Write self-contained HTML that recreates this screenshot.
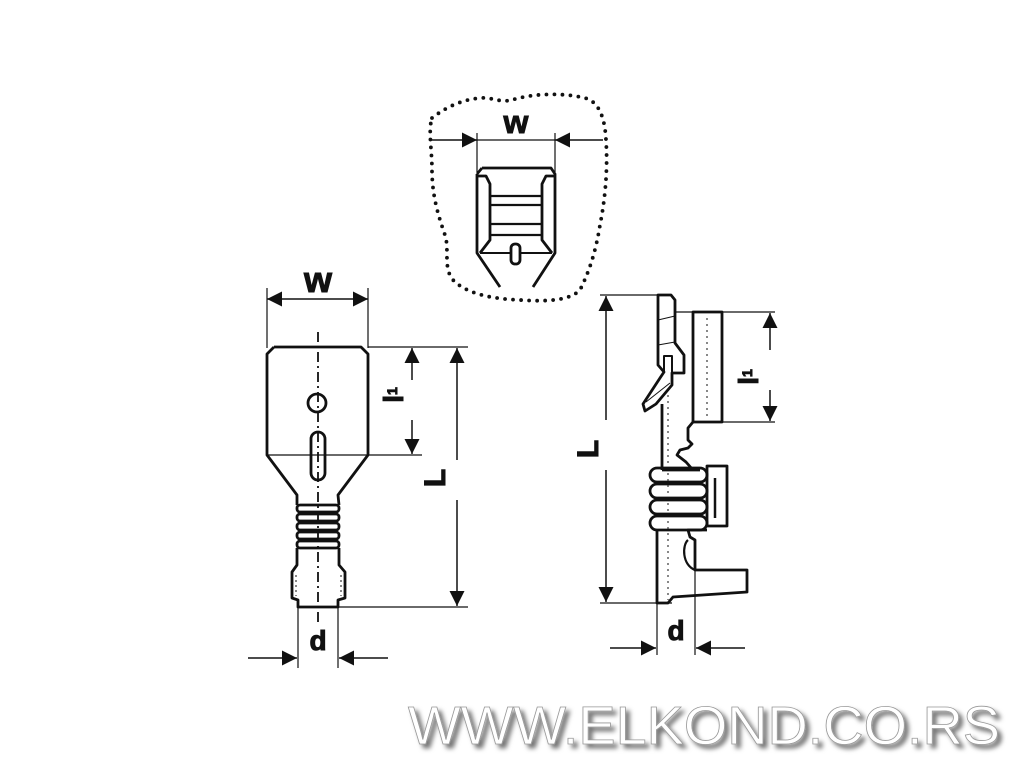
<!DOCTYPE html>
<html><head><meta charset="utf-8"><style>
html,body{margin:0;padding:0;background:#fff;}
svg{display:block;}
</style></head><body>
<svg width="1024" height="768" viewBox="0 0 1024 768" xmlns="http://www.w3.org/2000/svg">
<defs>
<marker id="ah" viewBox="0 0 10 10" refX="10" refY="5" markerWidth="15" markerHeight="15" markerUnits="userSpaceOnUse" orient="auto-start-reverse"><path d="M0,0 L10,5 L0,10 z" fill="#111"/></marker>
<filter id="sh" x="-5%" y="-20%" width="115%" height="150%"><feDropShadow dx="4" dy="4" stdDeviation="2.5" flood-color="#000" flood-opacity="0.55"/></filter>
</defs>
<rect width="1024" height="768" fill="#fff"/>
<g fill="none" stroke="#111" stroke-width="2.8" stroke-linejoin="round">

<!-- ===== TOP DETAIL ===== -->
<path d="M432,118 C445,108 460,100 480,98 C492,97 500,103 512,100 C530,94 560,92 585,98 C600,102 605,120 606,140 C608,170 605,200 600,225 C596,250 590,270 580,290 C570,300 550,302 520,300 C495,299 470,295 455,282 C442,270 450,250 445,235 C438,215 432,195 432,170 C432,150 428,130 432,118 Z" stroke-dasharray="0,8" stroke-width="3.8" stroke-linecap="round"/>
<line x1="477" y1="133" x2="477" y2="172" stroke-width="1.2"/>
<line x1="555" y1="133" x2="555" y2="172" stroke-width="1.2"/>
<line x1="432" y1="140" x2="477" y2="140" stroke-width="1.5" marker-end="url(#ah)"/>
<line x1="477" y1="140" x2="555" y2="140" stroke-width="1.2"/>
<line x1="603" y1="140" x2="555" y2="140" stroke-width="1.5" marker-end="url(#ah)"/>
<path d="M482,168 L551,168 L555,174 L555,253 L533,287 M477,174 L482,168 M477,174 L477,253 L500,287"/>
<path d="M477,176 L486,176 L490,184 L490,240 L480,253 M555,176 L546,176 L542,184 L542,240 L552,253"/>
<line x1="490" y1="196" x2="542" y2="196" stroke-width="2.2"/>
<line x1="490" y1="205" x2="542" y2="205" stroke-width="2.2"/>
<line x1="490" y1="224" x2="542" y2="224" stroke-width="2.2"/>
<line x1="490" y1="235" x2="542" y2="235" stroke-width="2.2"/>
<path d="M480,253 L510,253 M521,253 L552,253" stroke-width="2"/>
<rect x="511" y="244" width="9" height="20" rx="4"/>

<!-- ===== LEFT PART ===== -->
<line x1="267" y1="288" x2="267" y2="348" stroke-width="1.2"/>
<line x1="368" y1="288" x2="368" y2="348" stroke-width="1.2"/>
<line x1="318" y1="299" x2="267" y2="299" stroke-width="1.5" marker-end="url(#ah)"/>
<line x1="318" y1="299" x2="368" y2="299" stroke-width="1.5" marker-end="url(#ah)"/>
<path d="M274,347 L361,347 L368,354 L368,455 L338,495 L339,505 M274,347 L267,354 L267,455 L297,495 L297,505"/>
<line x1="267" y1="455" x2="368" y2="455" stroke-width="1.3"/>
<rect x="297" y="505" width="42" height="7" rx="3"/>
<rect x="297" y="514" width="42" height="7" rx="3"/>
<rect x="297" y="523" width="42" height="7" rx="3"/>
<rect x="297" y="532" width="42" height="7" rx="3"/>
<rect x="297" y="541" width="42" height="7" rx="3"/>
<path d="M297,548 L297,565 L292,572 L292,598 L298,600 L298,607 L338,607 L338,600 L345,598 L345,572 L339,565 L339,548"/>
<path d="M296,575 L296,596 M341,575 L341,596" stroke-width="1" stroke-dasharray="2,3"/>
<line x1="318" y1="332" x2="318" y2="625" stroke-width="1.8" stroke-dasharray="10,4,2,4"/>
<circle cx="317" cy="403" r="9"/>
<rect x="311" y="432" width="14" height="48" rx="7"/>
<line x1="368" y1="347" x2="468" y2="347" stroke-width="1.2"/>
<line x1="368" y1="455" x2="422" y2="455" stroke-width="1.2"/>
<line x1="338" y1="607" x2="468" y2="607" stroke-width="1.2"/>
<line x1="412" y1="380" x2="412" y2="348" stroke-width="1.5" marker-end="url(#ah)"/>
<line x1="412" y1="420" x2="412" y2="454" stroke-width="1.5" marker-end="url(#ah)"/>
<line x1="457" y1="460" x2="457" y2="348" stroke-width="1.5" marker-end="url(#ah)"/>
<line x1="457" y1="500" x2="457" y2="606" stroke-width="1.5" marker-end="url(#ah)"/>
<line x1="298" y1="607" x2="298" y2="668" stroke-width="1.2"/>
<line x1="338" y1="607" x2="338" y2="668" stroke-width="1.2"/>
<line x1="248" y1="658" x2="297" y2="658" stroke-width="1.5" marker-end="url(#ah)"/>
<line x1="388" y1="658" x2="339" y2="658" stroke-width="1.5" marker-end="url(#ah)"/>

<!-- ===== RIGHT PART ===== -->
<line x1="600" y1="295" x2="660" y2="295" stroke-width="1.2"/>
<line x1="600" y1="603" x2="672" y2="603" stroke-width="1.2"/>
<line x1="606" y1="420" x2="606" y2="296" stroke-width="1.5" marker-end="url(#ah)"/>
<line x1="606" y1="470" x2="606" y2="602" stroke-width="1.5" marker-end="url(#ah)"/>
<path d="M658,295 L671,295 L675,300 L675,343 L684,355 L684,373 L672,373 L672,385 L656,404 L645,411 L643,404 L660,378 L664,372 L658,365 L658,295 Z"/>
<path d="M664,372 L664,356 L672,356 L672,373" stroke-width="2"/>
<path d="M658,320 L675,316 M658,345 L675,342 M646,402 L670,383" stroke-width="1"/>
<line x1="662" y1="404" x2="662" y2="470"/>
<line x1="675" y1="312" x2="775" y2="312" stroke-width="1.2"/>
<rect x="693" y="312" width="29" height="110"/>
<line x1="722" y1="422" x2="775" y2="422" stroke-width="1.2"/>
<path d="M693,422 L688,428 L688,440 L692,444 L688,448 L680,450 L677,455 L686,462 L693,470"/>
<line x1="707" y1="318" x2="707" y2="418" stroke-width="1" stroke-dasharray="2,4"/>
<line x1="668" y1="395" x2="668" y2="600" stroke-width="1" stroke-dasharray="2,4"/>
<line x1="770" y1="350" x2="770" y2="313" stroke-width="1.5" marker-end="url(#ah)"/>
<line x1="770" y1="390" x2="770" y2="421" stroke-width="1.5" marker-end="url(#ah)"/>
<path d="M662,470 L700,470"/>
<rect x="650" y="468" width="57" height="14" rx="7"/>
<rect x="650" y="484" width="57" height="14" rx="7"/>
<rect x="650" y="500" width="57" height="14" rx="7"/>
<rect x="650" y="516" width="57" height="14" rx="7"/>
<rect x="707" y="466" width="20" height="60"/>
<line x1="715" y1="478" x2="715" y2="518" stroke-width="2.5"/>
<path d="M657,530 L657,603 L668,603 L673,597 L747,592 L747,570 L695,570 L695,540 L690,537 L688,530 L707,530"/>
<path d="M688,540 C682,545 682,565 695,570" stroke-width="2.2"/>
<line x1="657" y1="603" x2="657" y2="655" stroke-width="1.2"/>
<line x1="695" y1="570" x2="695" y2="655" stroke-width="1.2"/>
<line x1="610" y1="648" x2="656" y2="648" stroke-width="1.5" marker-end="url(#ah)"/>
<line x1="745" y1="648" x2="696" y2="648" stroke-width="1.5" marker-end="url(#ah)"/>
</g>

<g font-family="'Liberation Sans', sans-serif" font-weight="bold" fill="#111" stroke="#111" stroke-width="1">
<text x="516" y="133" font-size="32" text-anchor="middle">w</text>
<text x="318" y="292" font-size="36" text-anchor="middle">w</text>
<text x="318" y="650" font-size="28" text-anchor="middle">d</text>
<text x="676" y="640" font-size="28" text-anchor="middle">d</text>
<text transform="translate(445,478) rotate(-90)" font-size="30" text-anchor="middle">L</text>
<text transform="translate(598,449) rotate(-90)" font-size="30" text-anchor="middle">L</text>
<text transform="translate(403,395) rotate(-90)" font-size="28" text-anchor="middle">l<tspan font-size="14" dy="-6">1</tspan></text>
<text transform="translate(758,377) rotate(-90)" font-size="28" text-anchor="middle">l<tspan font-size="14" dy="-6">1</tspan></text>
</g>

<text x="408" y="744" font-family="'Liberation Sans', sans-serif" font-size="54" fill="#fff" stroke="#999" stroke-width="0.8" textLength="592" lengthAdjust="spacingAndGlyphs" filter="url(#sh)">WWW.ELKOND.CO.RS</text>
</svg>
</body></html>
